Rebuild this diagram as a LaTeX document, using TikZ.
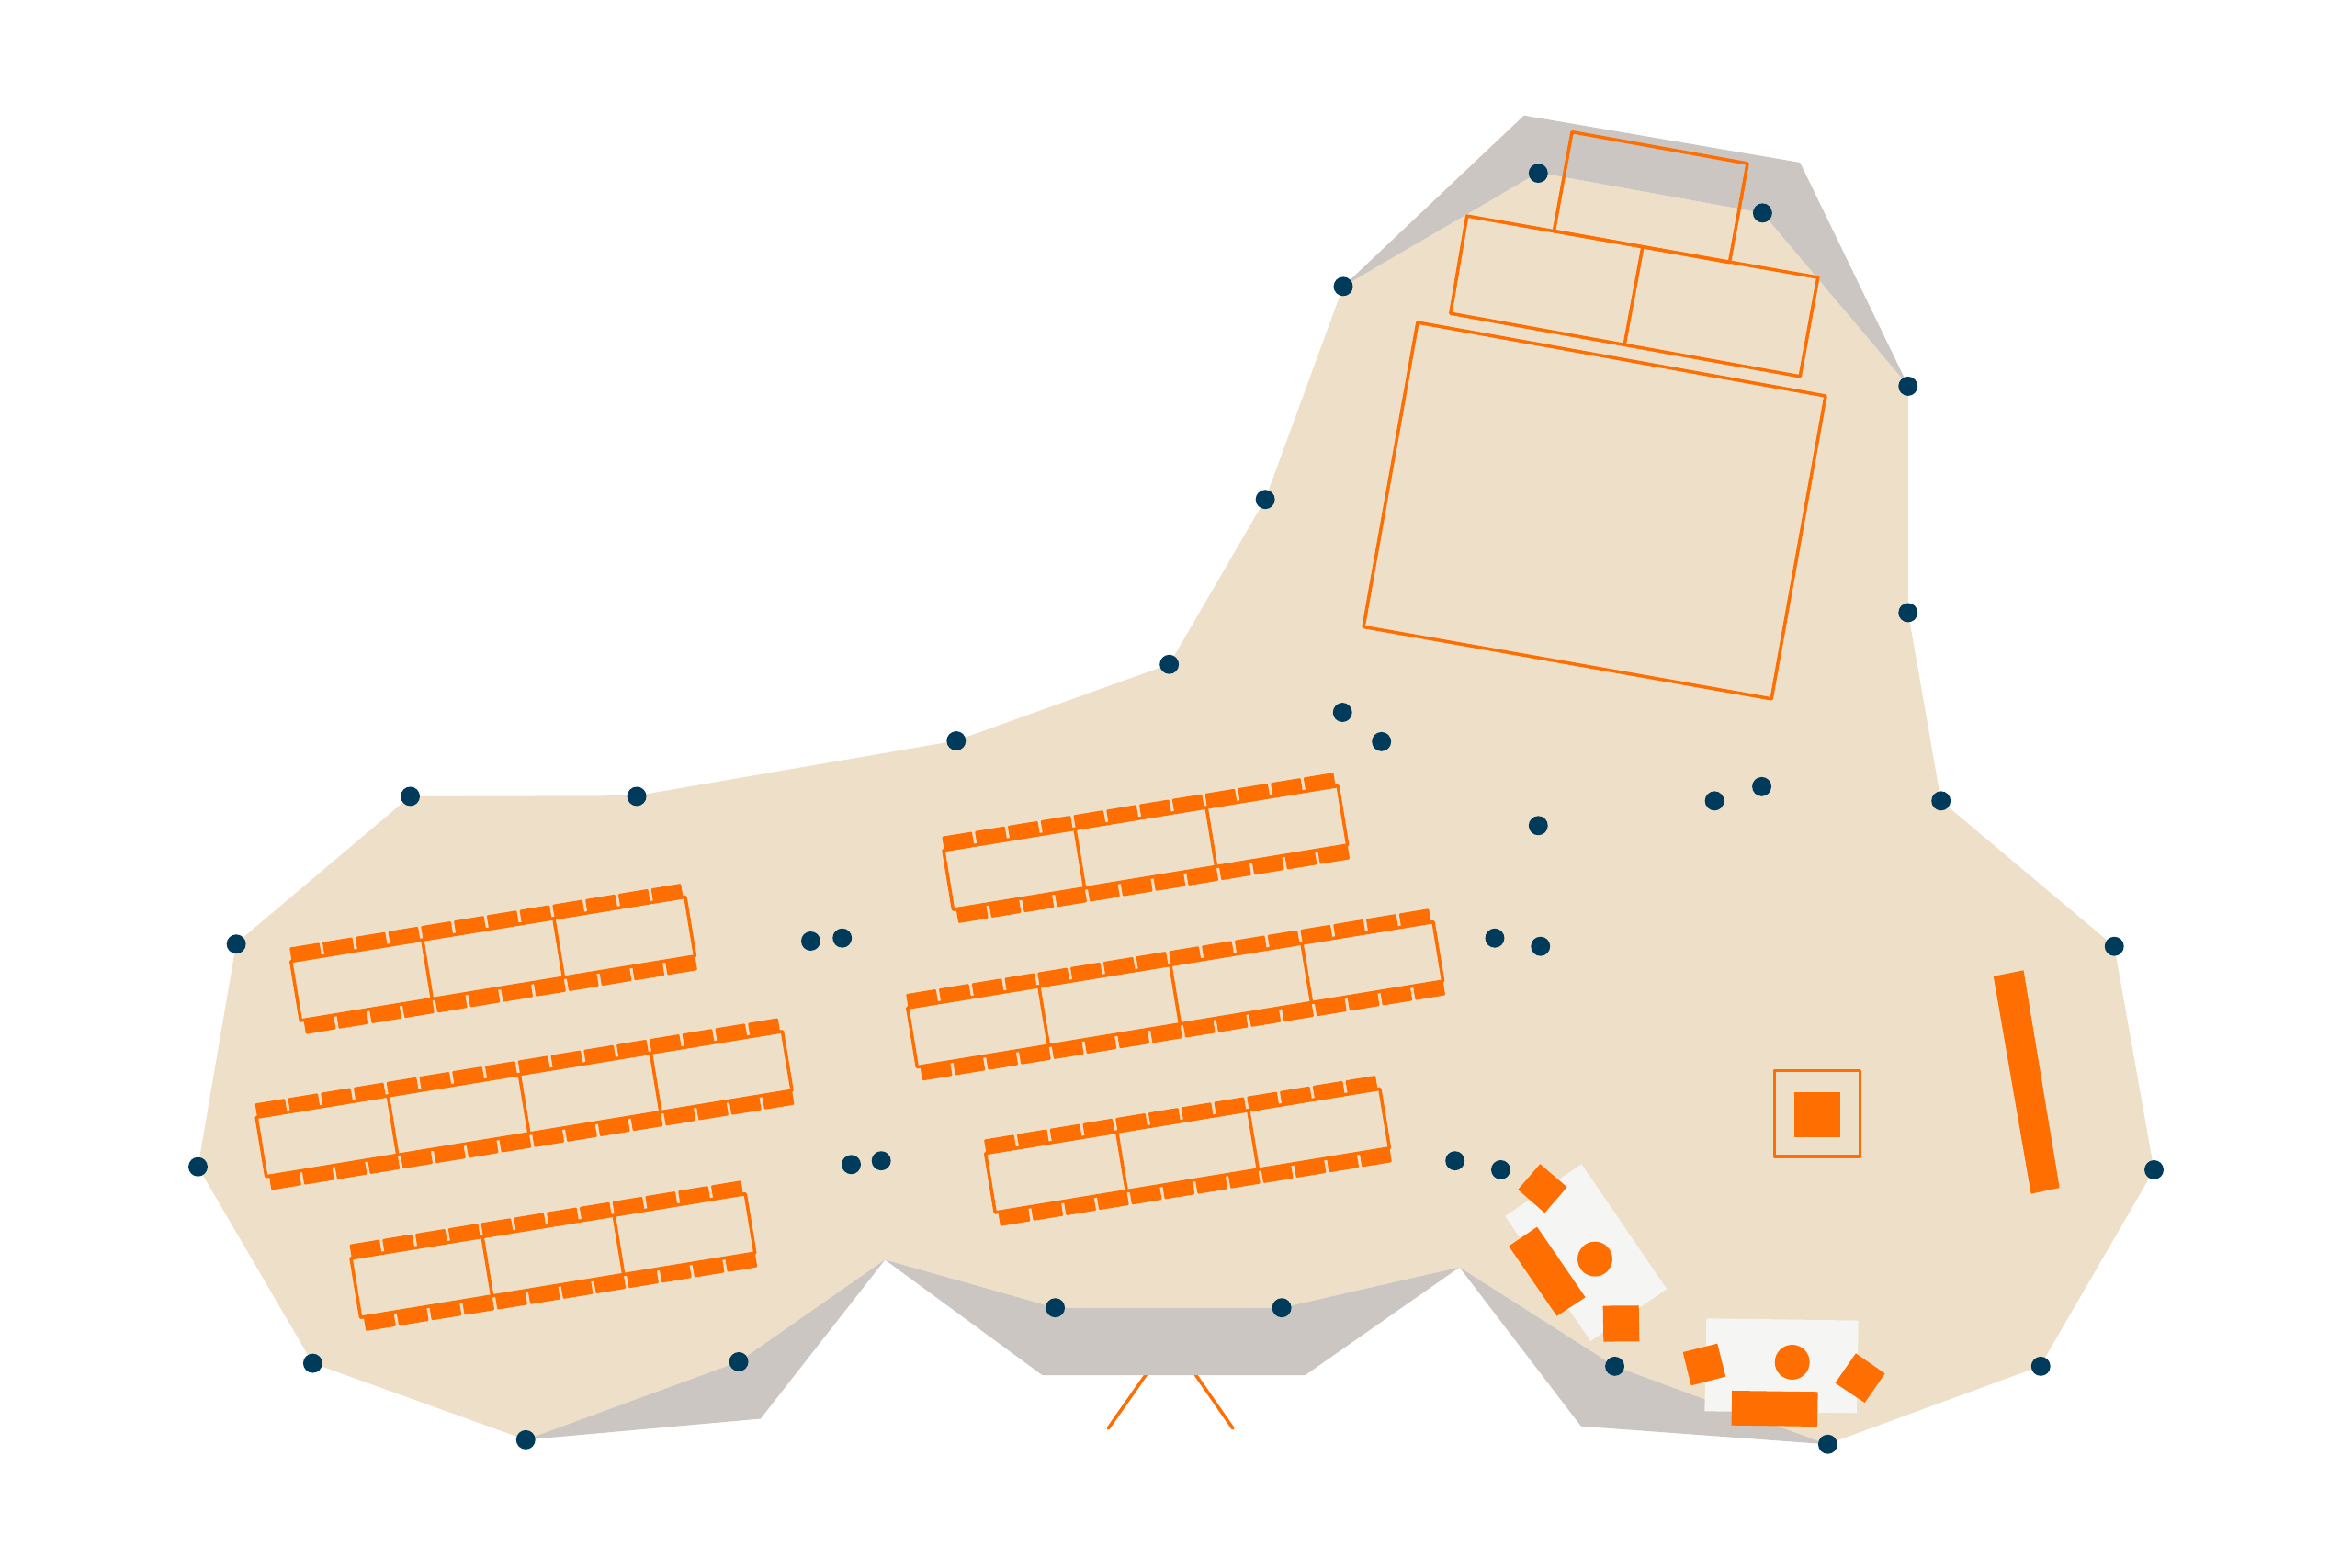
\documentclass[tikz,border=0pt]{standalone}
\definecolor{floorc}{HTML}{EEE0C8}
\definecolor{shadec}{HTML}{CCC6C3}
\definecolor{orangec}{HTML}{FF6E00}
\definecolor{navyc}{HTML}{003B5C}
\definecolor{palec}{HTML}{F5F5F3}
\tikzset{
  floorshape/.style={fill=floorc,draw=none},
  shadeshape/.style={fill=shadec,draw=none},
  outlinebox/.style={draw=orangec,line width=2pt,line join=round,fill=none},
  solidbox/.style={fill=orangec,draw=none},
  seatbox/.style={fill=orangec,draw=none,rounded corners=0.6pt},
  palebox/.style={fill=palec,draw=none},
  sensordot/.style={fill=navyc,draw=none},
  legline/.style={draw=orangec,line width=2pt,line cap=round}
}
\newcommand{\seatblock}[3]{%
  \begin{scope}[shift={(#1,#2)},rotate=9.28]
    \pgfmathtruncatemacro{\lastseat}{4*#3-1}
    \pgfmathsetmacro{\blockw}{88.8*#3}
    \foreach \i in {0,...,\lastseat}{
      \pgfmathsetmacro{\xa}{0.5+22.2*\i}
      \pgfmathsetmacro{\xb}{\xa+20.2}
      \pgfmathsetmacro{\xc}{2.0+22.2*\i}
      \pgfmathsetmacro{\xd}{\xc+20.2}
      \fill[seatbox] (\xa,-9.2) rectangle (\xb,0.5);
      \fill[seatbox] (\xc,39.5) rectangle (\xd,49.5);
    }
    \draw[outlinebox] (0,0) rectangle (\blockw,40);
    \pgfmathtruncatemacro{\lastunit}{#3-1}
    \foreach \u in {1,...,\lastunit}{
      \pgfmathsetmacro{\xu}{88.8*\u}
      \draw[outlinebox] (\xu,0) -- (\xu,40);
    }
  \end{scope}
}
\begin{document}
\begin{tikzpicture}[x=0.032653cm,y=-0.032653cm]
\useasboundingbox (0,0) rectangle (1568,1045.5);
% floor
\fill[floorshape] (273.5,531) -- (424.5,530.5) -- (637,494) -- (779.5,443) -- (843.5,333) -- (895.5,191) -- (1025.5,115) -- (1175,142) -- (1272,257) -- (1272,408) -- (1294,534) -- (1409.5,631) -- (1436,780) -- (1360,911) -- (1218,963) -- (1076.5,911) -- (973,845) -- (854.5,872) -- (703.5,872) -- (590,840) -- (492.5,908) -- (350.5,960) -- (208.5,909) -- (132,778) -- (157.5,629) -- cycle;
% legs under the lower band
\draw[legline] (764.4,916) -- (738.8,952.4);
\draw[legline] (796.6,916) -- (821.9,952.4);
% shaded bands
\fill[shadeshape] (895.5,191) -- (1016,77) -- (1200,108.4) -- (1272,257) -- (1175,142) -- (1025.5,115) -- cycle;
\fill[shadeshape] (350.5,960) -- (507,946) -- (590,840) -- (492.5,908) -- cycle;
\fill[shadeshape] (590,840) -- (695,917) -- (870,917) -- (973,845) -- (854.5,872) -- (703.5,872) -- cycle;
\fill[shadeshape] (973,845) -- (1054,951) -- (1218,963) -- (1076.5,911) -- cycle;
% stage
\draw[outlinebox] (945,215) -- (1217,264) -- (1181,466) -- (909,418) -- cycle;
\draw[outlinebox] (1048,88) -- (1165,109) -- (1153,175) -- (1036,154) -- cycle;
\draw[outlinebox] (978,144) -- (1212,185) -- (1200,251) -- (967,209) -- cycle;
\draw[outlinebox] (1095,165) -- (1083,230);
% seat blocks
\seatblock{194}{641}{3}
\seatblock{171}{745}{4}
\seatblock{234}{839}{3}
\seatblock{629}{567}{3}
\seatblock{605}{672}{4}
\seatblock{657}{769}{3}
% right side furniture
\draw[outlinebox] (1183,714) rectangle (1240,771);
\fill[solidbox] (1196,728) rectangle (1227,758);
\fill[solidbox] (1329,651) -- (1349,647) -- (1373,792) -- (1354,796) -- cycle;
% stations
\fill[palebox] (1054.3,776.2) -- (1111.2,859.5) -- (1060.4,894.2) -- (1003.4,810.9) -- cycle;
\fill[solidbox] (1026.7,776.2) -- (1044.7,791.5) -- (1029.8,808.7) -- (1012,793.2) -- cycle;
\fill[solidbox] (1024.7,818.1) -- (1056.9,865) -- (1037.9,877.5) -- (1005.9,830.9) -- cycle;
\fill[solidbox] (1063.3,839.5) circle (11.6);
\fill[solidbox] (1068.6,870.7) -- (1092.5,870.5) -- (1092.9,894.4) -- (1069,894.6) -- cycle;
\fill[palebox] (1137.6,879.1) -- (1238.9,880.5) -- (1237.8,942.2) -- (1136.4,941) -- cycle;
\fill[solidbox] (1121.9,901.6) -- (1144.9,895.9) -- (1150.4,917.9) -- (1127.4,923.8) -- cycle;
\fill[solidbox] (1194.8,908.3) circle (11.6);
\fill[solidbox] (1237.2,902.4) -- (1256.6,915.9) -- (1243.1,935.3) -- (1223.5,922.2) -- cycle;
\fill[solidbox] (1154.7,927.3) -- (1211.9,928.1) -- (1211.5,951.2) -- (1154.3,950.4) -- cycle;
% sensors
\foreach \p in {(273.5,531),(424.5,531),(637.5,494),(779.5,443),(843.5,333),(895.5,191),(1025.5,115.5),(1175,142),(1272,257.5),(1272,408.5),(1294,534),(1409.5,631),(1436,780),(1360.5,911),(1218.5,963),(1076.5,911),(854.5,872),(703.5,872),(492.5,908),(350.5,960),(208.5,909),(132,778),(157.5,629.5),(895,475),(921,494.5),(1025.5,550.5),(1143,534),(1174.5,524.5),(996.5,625.5),(1027,631),(540.5,627.5),(561.5,625.5),(567.5,776.5),(587.5,774),(970,774),(1000.5,780)}{
  \fill[sensordot] \p circle (6.4);
}
\end{tikzpicture}
\end{document}
